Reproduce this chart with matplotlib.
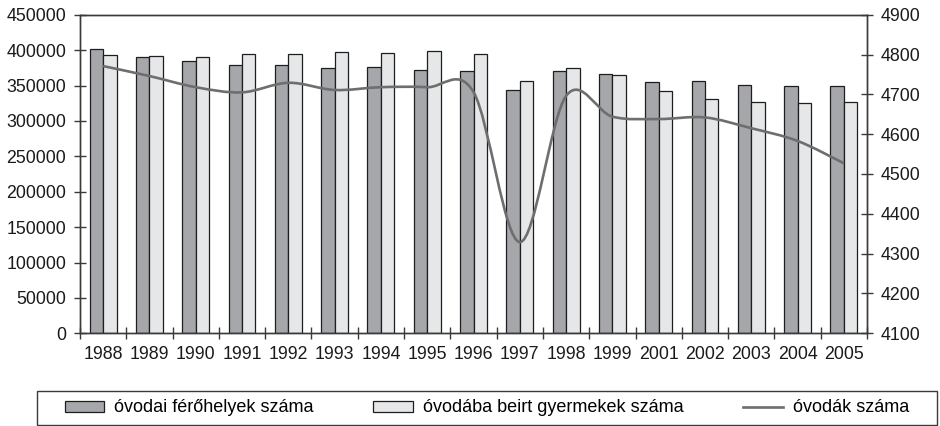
import numpy as np
import matplotlib
matplotlib.use("Agg")
import matplotlib.pyplot as plt
from matplotlib.path import Path
from matplotlib.patches import PathPatch, Patch, Rectangle
from matplotlib.lines import Line2D

plt.rcParams['font.family'] = ['Liberation Sans', 'DejaVu Sans']

years = ['1988', '1989', '1990', '1991', '1992', '1993', '1994', '1995', '1996',
         '1997', '1998', '1999', '2001', '2002', '2003', '2004', '2005']

# óvodai férőhelyek száma (left axis)
ferohelyek = [402000, 390300, 384600, 378500, 378500, 375200, 376100, 372300, 371000,
              343200, 370000, 365800, 354500, 356800, 350300, 349800, 348900]
# óvodába beirt gyermekek száma (left axis)
gyermekek = [393500, 391700, 390700, 394100, 394000, 396900, 396400, 399200, 394100,
             356400, 374300, 365300, 342700, 331400, 327100, 325700, 326300]
# óvodák száma (right axis)
ovodak = [4771, 4746, 4718, 4705, 4729, 4711, 4718, 4718, 4706,
          4329, 4696, 4644, 4638, 4642, 4615, 4583, 4527]

DARK = '#a6a7ab'
LIGHT = '#e6e7e9'
EDGE = '#1e1e1e'
LINE = '#6e6e6e'
AXC = '#3a3a3a'


def smooth_path(x, y):
    # Excel style smoothed line as cubic bezier segments
    n = len(x)
    verts = [(x[0], y[0])]
    codes = [Path.MOVETO]
    for i in range(n - 1):
        a = i - 1 if i > 0 else i
        d = i + 2 if i + 2 < n else i + 1
        c1 = (x[i] + (x[i + 1] - x[a]) / 6, y[i] + (y[i + 1] - y[a]) / 6)
        c2 = (x[i + 1] - (x[d] - x[i]) / 6, y[i + 1] - (y[d] - y[i]) / 6)
        verts += [c1, c2, (x[i + 1], y[i + 1])]
        codes += [Path.CURVE4] * 3
    return Path(verts, codes)


fig = plt.figure(figsize=(9.4, 4.26), dpi=100)
ax = fig.add_axes([80 / 940, 1 - 333.3 / 426, 787 / 940, 318.6 / 426])

x = np.arange(len(years))
w = 0.29
ax.bar(x - w / 2, ferohelyek, w, color=DARK, edgecolor=EDGE, linewidth=0.9, zorder=2)
ax.bar(x + w / 2, gyermekek, w, color=LIGHT, edgecolor=EDGE, linewidth=0.9, zorder=2)

ax.set_xlim(-0.5, len(years) - 0.5)
ax.set_ylim(0, 450000)
ax.set_yticks(np.arange(0, 450001, 50000))
ax.set_yticklabels([str(v) for v in range(0, 450001, 50000)])
ax.set_xticks(x)
ax.set_xticklabels(years)
ax.set_xticks(np.arange(-0.5, len(years), 1), minor=True)
ax.tick_params(axis='x', which='major', length=0, pad=9, labelsize=12.8, colors='#1a1a1a')
ax.tick_params(axis='x', which='minor', length=8, direction='inout', width=1, color=AXC)
ax.tick_params(axis='y', length=8, direction='inout', width=1, color=AXC, pad=6,
               labelsize=12.8, labelcolor='#1a1a1a')

ax2 = ax.twinx()
ax2.set_ylim(4100, 4900)
ax2.set_yticks(np.arange(4100, 4901, 100))
ax2.tick_params(axis='y', length=8, direction='inout', width=1, color=AXC, pad=6,
                labelsize=12.8, labelcolor='#1a1a1a')
ax2.add_patch(PathPatch(smooth_path(x.astype(float), np.array(ovodak, float)),
                        fill=False, edgecolor=LINE, linewidth=1.9, zorder=3))

for a in (ax, ax2):
    for s in a.spines.values():
        s.set_color(AXC)
        s.set_linewidth(1)
ax.spines['bottom'].set_zorder(4)

# legend frame
fig.patches.append(Rectangle((37 / 940, 1 / 426), 900 / 940, 34 / 426,
                             transform=fig.transFigure, fill=False,
                             edgecolor=AXC, linewidth=1))

handles = [Patch(facecolor=DARK, edgecolor=EDGE, linewidth=0.9),
           Patch(facecolor=LIGHT, edgecolor=EDGE, linewidth=0.9),
           Line2D([], [], color=LINE, linewidth=1.9)]
labels = ['óvodai férőhelyek száma', 'óvodába beirt gyermekek száma', 'óvodák száma']
fig.legend(handles, labels, ncol=3, loc='center',
           bbox_to_anchor=(487 / 940, 1 - 408 / 426),
           fontsize=13, frameon=False, borderaxespad=0,
           handlelength=2.2, handleheight=0.55, handletextpad=0.55,
           columnspacing=3.3, borderpad=0)

fig.savefig('out.png', dpi=100)
